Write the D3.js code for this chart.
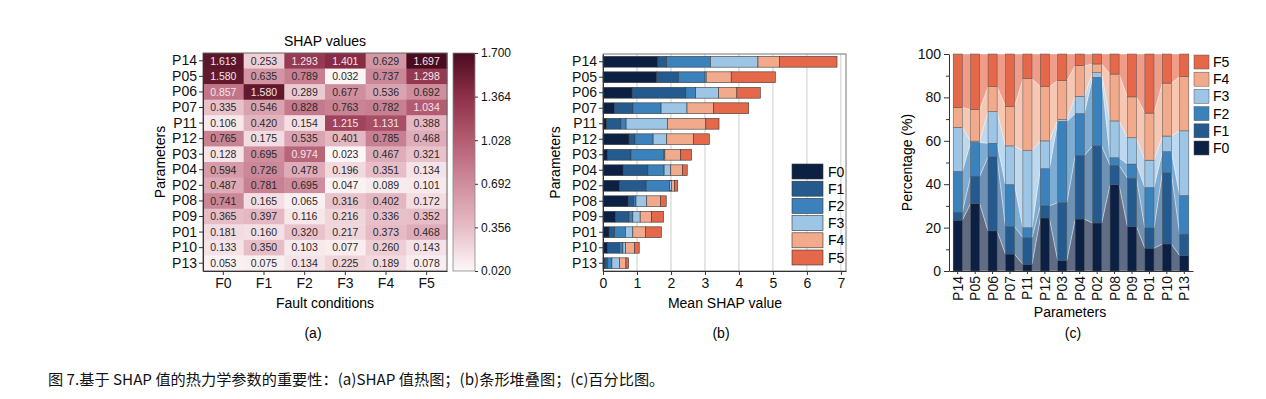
<!DOCTYPE html>
<html>
<head>
<meta charset="utf-8">
<script src="https://cdn.jsdelivr.net/npm/d3@7"></script>
<style>
    body { margin: 0; background: #fff; }
    svg { display: block; font-family: "Liberation Sans", Arial, sans-serif; }
    .axis path, .axis line { stroke: #333; }
    .axis text { fill: #111; }
</style>
</head>
<body>
<svg id="chart" width="1266" height="399"></svg>
<script>
const params = ["P14", "P05", "P06", "P07", "P11", "P12", "P03", "P04", "P02", "P08", "P09", "P01", "P10", "P13"];
const faults = ["F0", "F1", "F2", "F3", "F4", "F5"];
const f0 = [1.613, 1.580, 0.857, 0.335, 0.106, 0.765, 0.128, 0.594, 0.487, 0.741, 0.365, 0.181, 0.133, 0.053];
const f1 = [0.253, 0.635, 1.580, 0.546, 0.420, 0.175, 0.695, 0.726, 0.781, 0.165, 0.397, 0.160, 0.350, 0.075];
const f2 = [1.293, 0.789, 0.289, 0.828, 0.154, 0.535, 0.974, 0.478, 0.695, 0.065, 0.116, 0.320, 0.103, 0.134];
const f3 = [1.401, 0.032, 0.677, 0.763, 1.215, 0.401, 0.023, 0.196, 0.047, 0.316, 0.216, 0.217, 0.077, 0.225];
const f4 = [0.629, 0.737, 0.536, 0.782, 1.131, 0.785, 0.467, 0.351, 0.089, 0.402, 0.336, 0.373, 0.260, 0.189];
const f5 = [1.697, 1.298, 0.692, 1.034, 0.388, 0.468, 0.321, 0.134, 0.101, 0.172, 0.352, 0.468, 0.143, 0.078];
const colorbarTicks = [0.020, 0.356, 0.692, 1.028, 1.364, 1.700];
const barTicks = [0, 1, 2, 3, 4, 5, 6, 7];
const pctTicks = [0, 20, 40, 60, 80, 100];
const caption = "图 7.基于 SHAP 值的热力学参数的重要性：(a)SHAP 值热图；(b)条形堆叠图；(c)百分比图。";

const series = [f0, f1, f2, f3, f4, f5];
const rows = params.map((p, i) => {
    let r = {param: p};
    faults.forEach((f, k) => { r[f] = series[k][i]; });
    return r;
});
const cells = [];
rows.forEach((r) => { faults.forEach((f) => { cells.push({param: r.param, fault: f, value: r[f]}); }); });

const faultColor = d3.scaleOrdinal()
    .domain(faults)
    .range(["#0c2044", "#245a8d", "#3b82bd", "#9dc5e6", "#f2aa8c", "#e6684a"]);

const svg = d3.select("#chart");
const tickFont = "14px";

function styleAxis(g, size) {
    g.attr("class", "axis");
    g.selectAll("text").attr("font-size", size || tickFont);
}

// ---------- (a) heatmap ----------
const hm = {left: 203, right: 447, top: 53, bottom: 271};
const hx = d3.scaleBand().domain(faults).range([hm.left, hm.right]);
const hy = d3.scaleBand().domain(params).range([hm.top, hm.bottom]);
const heat = d3.scaleLinear()
    .domain(colorbarTicks)
    .range(["#fdf7f8", "#e7bdc7", "#cf8d9d", "#b45c72", "#8e3049", "#4a0b1e"])
    .clamp(true);

const ga = svg.append("g");
ga.selectAll(".cell")
    .data(cells)
    .enter().append("rect")
    .attr("class", "cell")
    .attr("x", (d) => hx(d.fault))
    .attr("y", (d) => hy(d.param))
    .attr("width", hx.bandwidth() + 0.5)
    .attr("height", hy.bandwidth() + 0.5)
    .attr("fill", (d) => heat(d.value));
ga.selectAll(".cellText")
    .data(cells)
    .enter().append("text")
    .attr("class", "cellText")
    .attr("x", (d) => hx(d.fault) + hx.bandwidth() / 2)
    .attr("y", (d) => hy(d.param) + hy.bandwidth() / 2)
    .attr("dy", "0.36em")
    .attr("text-anchor", "middle")
    .attr("font-size", "10.5px")
    .attr("fill", (d) => d.value > 0.84 ? "#f4e6ea" : "#2a2a2a")
    .text((d) => d3.format(".3f")(d.value));
ga.append("rect")
    .attr("x", hm.left).attr("y", hm.top)
    .attr("width", hm.right - hm.left).attr("height", hm.bottom - hm.top)
    .attr("fill", "none").attr("stroke", "#666").attr("stroke-width", 1);
ga.append("g")
    .attr("transform", `translate(${hm.left},0)`)
    .call(d3.axisLeft(hy).tickSize(4).tickPadding(2).tickSizeOuter(0))
    .call(styleAxis);
ga.append("g")
    .attr("transform", `translate(0,${hm.bottom})`)
    .call(d3.axisBottom(hx).tickSize(4).tickPadding(3).tickSizeOuter(0))
    .call(styleAxis);
ga.append("text").attr("x", 325).attr("y", 46).attr("text-anchor", "middle")
    .attr("font-size", "14px").text("SHAP values");
ga.append("text").attr("x", 325).attr("y", 308).attr("text-anchor", "middle")
    .attr("font-size", "14px").text("Fault conditions");
ga.append("text").attr("transform", `translate(165,${(hm.top + hm.bottom) / 2}) rotate(-90)`)
    .attr("text-anchor", "middle").attr("font-size", "14px").text("Parameters");
ga.append("text").attr("x", 313).attr("y", 338).attr("text-anchor", "middle")
    .attr("font-size", "14px").text("(a)");

// colorbar
const cb = {left: 453, right: 475, top: 53, bottom: 271};
const cy = d3.scaleLinear().domain([0.02, 1.7]).range([cb.bottom, cb.top]);
const defs = svg.append("defs");
const grad = defs.append("linearGradient").attr("id", "cbGrad")
    .attr("x1", 0).attr("y1", 1).attr("x2", 0).attr("y2", 0);
colorbarTicks.forEach((t) => {
    grad.append("stop").attr("offset", (t - 0.02) / 1.68).attr("stop-color", heat(t));
});
ga.append("rect")
    .attr("x", cb.left).attr("y", cb.top)
    .attr("width", cb.right - cb.left).attr("height", cb.bottom - cb.top)
    .attr("fill", "url(#cbGrad)").attr("stroke", "#888").attr("stroke-width", 0.8);
ga.append("g")
    .attr("transform", `translate(${cb.right},0)`)
    .call(d3.axisRight(cy).tickValues(colorbarTicks).tickFormat(d3.format(".3f")).tickSize(3).tickPadding(3))
    .call((g) => g.select(".domain").remove())
    .call((g) => styleAxis(g, "12px"));

// ---------- (b) stacked bars ----------
const bm = {left: 603, right: 846, top: 54, bottom: 271};
const bx = d3.scaleLinear().domain([0, 7.15]).range([bm.left, bm.right]);
const by = d3.scaleBand().domain(params).range([bm.top, bm.bottom]).paddingInner(0.3).paddingOuter(0.15);
const stacked = d3.stack().keys(faults)(rows);

const gb = svg.append("g");
gb.selectAll(".grid")
    .data(barTicks.slice(1))
    .enter().append("line")
    .attr("class", "grid")
    .attr("x1", (d) => bx(d)).attr("x2", (d) => bx(d))
    .attr("y1", bm.top).attr("y2", bm.bottom)
    .attr("stroke", "#ccc").attr("stroke-width", 1);
gb.selectAll(".layer")
    .data(stacked)
    .enter().append("g")
    .attr("class", "layer")
    .attr("fill", (d) => faultColor(d.key))
    .selectAll("rect")
    .data((d) => d)
    .enter().append("rect")
    .attr("x", (d) => bx(d[0]))
    .attr("y", (d) => by(d.data.param))
    .attr("width", (d) => bx(d[1]) - bx(d[0]))
    .attr("height", by.bandwidth())
    .attr("stroke", "#3a3a3a").attr("stroke-width", 0.6);
gb.append("rect")
    .attr("x", bm.left).attr("y", bm.top)
    .attr("width", bm.right - bm.left).attr("height", bm.bottom - bm.top)
    .attr("fill", "none").attr("stroke", "#777").attr("stroke-width", 1);
gb.append("g")
    .attr("transform", `translate(${bm.left},0)`)
    .call(d3.axisLeft(by).tickSize(4).tickPadding(2).tickSizeOuter(0))
    .call(styleAxis);
gb.append("g")
    .attr("transform", `translate(0,${bm.bottom})`)
    .call(d3.axisBottom(bx).tickValues(barTicks).tickFormat(d3.format("d")).tickSize(4).tickPadding(3).tickSizeOuter(0))
    .call(styleAxis);
gb.append("text").attr("x", 725).attr("y", 308).attr("text-anchor", "middle")
    .attr("font-size", "14px").text("Mean SHAP value");
gb.append("text").attr("transform", `translate(560,${(bm.top + bm.bottom) / 2}) rotate(-90)`)
    .attr("text-anchor", "middle").attr("font-size", "14px").text("Parameters");
gb.append("text").attr("x", 721).attr("y", 338).attr("text-anchor", "middle")
    .attr("font-size", "14px").text("(b)");

const legB = gb.selectAll(".legB")
    .data(faults)
    .enter().append("g")
    .attr("class", "legB")
    .attr("transform", (d, i) => `translate(792,${164 + i * 17.2})`);
legB.append("rect").attr("width", 31).attr("height", 15)
    .attr("fill", (d) => faultColor(d)).attr("stroke", "#333").attr("stroke-width", 0.6);
legB.append("text").attr("x", 36).attr("y", 7.5).attr("dy", "0.36em")
    .attr("font-size", tickFont).text((d) => d);

// ---------- (c) percentage ----------
const pm = {left: 949, right: 1193, top: 54, bottom: 271};
const px = d3.scaleBand().domain(params).range([pm.left, pm.right]);
const py = d3.scaleLinear().domain([0, 100]).range([pm.bottom, pm.top]);
const pct = d3.stack().keys(faults).offset(d3.stackOffsetExpand)(rows);
const bw = px.bandwidth() * 0.52;

const gc = svg.append("g");
const band = d3.area()
    .x((d) => d.x)
    .y0((d) => py(d.lo * 100))
    .y1((d) => py(d.hi * 100));
gc.selectAll(".link")
    .data(pct)
    .enter().append("path")
    .attr("class", "link")
    .attr("fill", (d) => faultColor(d.key))
    .attr("fill-opacity", 0.66)
    .attr("stroke", "#fff").attr("stroke-opacity", 0.6).attr("stroke-width", 0.6)
    .attr("d", (s) => {
        let pts = [];
        s.forEach((d) => {
            let c = px(d.data.param) + px.bandwidth() / 2;
            pts.push({x: c - bw / 2, lo: d[0], hi: d[1]});
            pts.push({x: c + bw / 2, lo: d[0], hi: d[1]});
        });
        return band(pts);
    });
gc.selectAll(".pLayer")
    .data(pct)
    .enter().append("g")
    .attr("class", "pLayer")
    .attr("fill", (d) => faultColor(d.key))
    .selectAll("rect")
    .data((d) => d)
    .enter().append("rect")
    .attr("x", (d) => px(d.data.param) + px.bandwidth() / 2 - bw / 2)
    .attr("y", (d) => py(d[1] * 100))
    .attr("width", bw)
    .attr("height", (d) => py(d[0] * 100) - py(d[1] * 100))
    .attr("stroke", "#555").attr("stroke-width", 0.5);
gc.append("g")
    .attr("transform", `translate(${pm.left},0)`)
    .call(d3.axisLeft(py).tickValues([10, 30, 50, 70, 90]).tickSize(3).tickFormat(""))
    .call((g) => g.select(".domain").remove())
    .call(styleAxis);
gc.append("g")
    .attr("transform", `translate(${pm.left},0)`)
    .call(d3.axisLeft(py).tickValues(pctTicks).tickSize(5).tickPadding(3).tickSizeOuter(0))
    .call(styleAxis);
gc.append("g")
    .attr("transform", `translate(0,${pm.bottom})`)
    .call(d3.axisBottom(px).tickSize(3).tickPadding(2).tickSizeOuter(0))
    .call(styleAxis)
    .call((g) => g.selectAll(".tick text")
        .attr("transform", "rotate(-90)")
        .attr("text-anchor", "end")
        .attr("x", -5).attr("y", 0).attr("dy", "0.36em"));
gc.append("text").attr("x", 1070).attr("y", 317).attr("text-anchor", "middle")
    .attr("font-size", "14px").text("Parameters");
gc.append("text").attr("transform", `translate(912,${(pm.top + pm.bottom) / 2}) rotate(-90)`)
    .attr("text-anchor", "middle").attr("font-size", "14px").text("Percentage (%)");
gc.append("text").attr("x", 1073).attr("y", 338).attr("text-anchor", "middle")
    .attr("font-size", "14px").text("(c)");

const legC = gc.selectAll(".legC")
    .data(faults.slice().reverse())
    .enter().append("g")
    .attr("class", "legC")
    .attr("transform", (d, i) => `translate(1194,${55 + i * 17.2})`);
legC.append("rect").attr("width", 15).attr("height", 14)
    .attr("fill", (d) => faultColor(d)).attr("stroke", "#555").attr("stroke-width", 0.5);
legC.append("text").attr("x", 19).attr("y", 7).attr("dy", "0.36em")
    .attr("font-size", tickFont).text((d) => d);

// caption
svg.append("text")
    .attr("x", 48).attr("y", 385)
    .attr("font-family", "'Noto Sans CJK SC', sans-serif")
    .attr("font-size", "15.2px")
    .attr("fill", "#111")
    .text(caption);
</script>
</body>
</html>
